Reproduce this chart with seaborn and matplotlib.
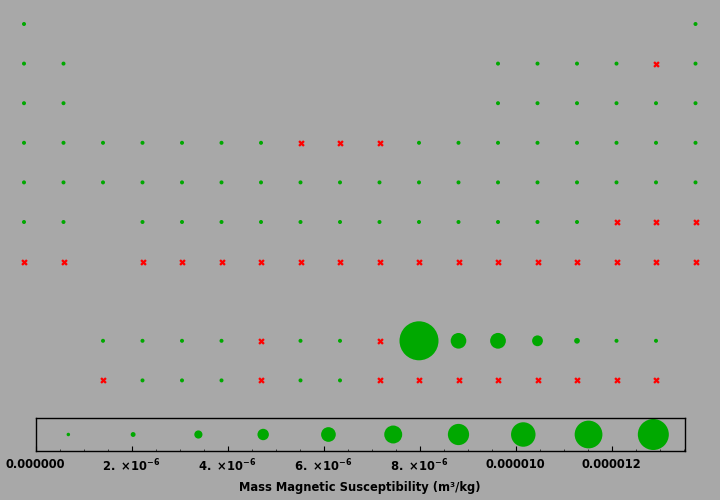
import numpy as np
import pandas as pd
import matplotlib
matplotlib.use("Agg")
import matplotlib.pyplot as plt
from matplotlib.ticker import MultipleLocator, FixedLocator, FixedFormatter
import seaborn as sns

# ---------------- data ----------------
symbols = ["H", "He", "Li", "Be", "B", "C", "N", "O", "F", "Ne",
           "Na", "Mg", "Al", "Si", "P", "S", "Cl", "Ar",
           "K", "Ca", "Sc", "Ti", "V", "Cr", "Mn", "Fe", "Co", "Ni", "Cu", "Zn", "Ga", "Ge", "As", "Se", "Br", "Kr",
           "Rb", "Sr", "Y", "Zr", "Nb", "Mo", "Tc", "Ru", "Rh", "Pd", "Ag", "Cd", "In", "Sn", "Sb", "Te", "I", "Xe",
           "Cs", "Ba", "La", "Ce", "Pr", "Nd", "Pm", "Sm", "Eu", "Gd", "Tb", "Dy", "Ho", "Er", "Tm", "Yb", "Lu",
           "Hf", "Ta", "W", "Re", "Os", "Ir", "Pt", "Au", "Hg", "Tl", "Pb", "Bi", "Po", "At", "Rn",
           "Fr", "Ra", "Ac", "Th", "Pa", "U", "Np", "Pu", "Am", "Cm", "Bk", "Cf", "Es", "Fm", "Md", "No", "Lr",
           "Rf", "Db", "Sg", "Bh", "Hs", "Mt", "Ds", "Rg", "Cn", "Nh", "Fl", "Mc", "Lv", "Ts", "Og"]

nan = np.nan
# mass magnetic susceptibility, m^3/kg (nan = not available)
susceptibility = [
    -2.48e-8, -5.9e-9, 2.56e-8, -1.3e-8, -8.7e-9, -6.2e-9, -5.4e-9, 1.335e-6, nan, -4.2e-9,
    8.8e-9, 6.9e-9, 7.8e-9, -1.6e-9, -1.13e-8, -6.2e-9, -7.2e-9, -6.0e-9,
    6.7e-9, 1.38e-8, 8.8e-8, 4.01e-8, 6.28e-8, 4.45e-8, 1.21e-7, nan, nan, nan,
    -1.08e-9, -2.21e-9, -3.0e-9, -1.5e-9, -3.9e-9, -4.0e-9, -4.9e-9, -4.4e-9,
    2.6e-9, 1.32e-9, 2.15e-8, 1.66e-8, 2.76e-8, 1.17e-8, 3.4e-8, 5.4e-9, 1.36e-8, 6.57e-8,
    -2.27e-9, -2.3e-9, -1.4e-9, -3.1e-9, -8.1e-9, -3.9e-9, -4.5e-9, -4.3e-9,
    2.8e-9, 1.13e-8, 1.1e-8, 2.2e-7, 4.47e-7, 4.8e-7, nan, 1.11e-7, 2.76e-7, nan,
    1.36e-5, 5.45e-6, 5.49e-6, 3.77e-6, 1.99e-6, 5.9e-9, 1.2e-9,
    5.3e-9, 1.07e-8, 4.59e-9, 4.56e-9, 6.0e-10, 1.67e-9, 1.22e-8, -1.78e-9, -2.1e-9, -3.0e-9, -1.5e-9, -1.7e-8,
    nan, nan, nan,
    nan, nan, nan, 7.2e-9, 3.25e-8, 2.16e-8, nan, 3.17e-8, 5.15e-8, nan, nan, nan, nan, nan, nan, nan, nan,
    nan, nan, nan, nan, nan, nan, nan, nan, nan, nan, nan, nan, nan, nan, nan]

legend_values = [0.68e-6, 2.03e-6, 3.39e-6, 4.74e-6, 6.10e-6, 7.45e-6, 8.81e-6, 10.16e-6, 11.52e-6, 12.87e-6]
tick_values = [0, 2e-6, 4e-6, 6e-6, 8e-6, 10e-6, 12e-6]
tick_labels = ["0.000000",
               r"$\mathbf{2.\,\times\!10^{-6}}$", r"$\mathbf{4.\,\times\!10^{-6}}$",
               r"$\mathbf{6.\,\times\!10^{-6}}$", r"$\mathbf{8.\,\times\!10^{-6}}$",
               "0.000010", "0.000012"]
axis_title = "Mass Magnetic Susceptibility (m\u00b3/kg)"


# standard periodic-table layout (group column, display row)
def table_position(z):
    if z == 1:
        return 1, 1
    if z == 2:
        return 18, 1
    for start, row in ((3, 2), (11, 3)):
        if start <= z < start + 8:
            k = z - start
            return (k + 1 if k < 2 else k + 11), row
    if 19 <= z <= 36:
        return z - 18, 4
    if 37 <= z <= 54:
        return z - 36, 5
    if z in (55, 56):
        return z - 54, 6
    if 57 <= z <= 71:
        return z - 54, 9
    if 72 <= z <= 86:
        return z - 68, 6
    if z in (87, 88):
        return z - 86, 7
    if 89 <= z <= 103:
        return z - 86, 10
    return z - 100, 7


pos = [table_position(z) for z in range(1, len(symbols) + 1)]
df = pd.DataFrame({"symbol": symbols,
                   "chi": susceptibility,
                   "col": [p[0] for p in pos],
                   "row": [p[1] for p in pos]})

GREEN = "#00a800"
RED = "#ff0000"
BG = "#a8a8a8"
PX2PT = 0.72

sns.set_style("white")
plt.rcParams["font.family"] = ["DejaVu Sans"]
plt.rcParams["mathtext.fontset"] = "dejavusans"

fig = plt.figure(figsize=(7.2, 5), dpi=100, facecolor=BG)

# ---------------- main table ----------------
ax = fig.add_axes([0, 0.2, 1, 0.8])
ax.set_facecolor(BG)
have = df[df["chi"].notna()].copy()
miss = df[df["chi"].isna()].copy()
diam_px = np.maximum(4.0, 39.0 * have["chi"] / 1.36e-5)
have["area"] = (diam_px * PX2PT) ** 2

sns.scatterplot(data=have, x="col", y="row", size="area",
                sizes=(have["area"].min(), have["area"].max()),
                color=GREEN, linewidth=0, legend=False, ax=ax)
sns.scatterplot(data=miss, x="col", y="row", marker="X", s=(6.5 * PX2PT) ** 2,
                color=RED, linewidth=0, legend=False, ax=ax)

sx, sy = 39.5, 39.6
ax.set_xlim(1 - 24 / sx, 1 - 24 / sx + 720 / sx)
ax.set_ylim(1 - 24 / sy + 400 / sy, 1 - 24 / sy)
ax.axis("off")

# ---------------- size legend ----------------
lax = fig.add_axes([35.7 / 720, 1 - 450.7 / 500, (685 - 35.7) / 720, 32.4 / 500])
lax.set_facecolor(BG)
leg = pd.DataFrame({"value": legend_values, "y": 0.0})
leg_d = np.maximum(3.5, 2.41 * leg["value"] / 1e-6)
leg["area"] = (leg_d * PX2PT) ** 2
sns.scatterplot(data=leg, x="value", y="y", size="area",
                sizes=(leg["area"].min(), leg["area"].max()),
                color=GREEN, linewidth=0, legend=False, ax=lax)
lax.set_xlim(0, 13.53e-6)
lax.set_ylim(-1, 1)
for s in lax.spines.values():
    s.set_visible(True)
    s.set_color("black")
    s.set_linewidth(1.0)
lax.xaxis.set_major_locator(FixedLocator(tick_values))
lax.xaxis.set_major_formatter(FixedFormatter(tick_labels))
lax.xaxis.set_minor_locator(MultipleLocator(0.5e-6))
lax.tick_params(axis="x", which="major", direction="in", length=3.5, width=0.8,
                pad=5, labelsize=8.3, colors="black", bottom=True, top=False)
lax.tick_params(axis="x", which="minor", direction="in", length=1.8, width=0.6,
                bottom=True, top=False)
for t in lax.get_xticklabels():
    t.set_fontweight("bold")
lax.set_yticks([])
lax.set_xlabel("")
lax.set_ylabel("")

fig.text(0.5, 1 - 488 / 500, axis_title, ha="center", va="center",
         fontsize=8.3, fontweight="bold", color="black")

fig.savefig("out.png", dpi=100, facecolor=BG)
